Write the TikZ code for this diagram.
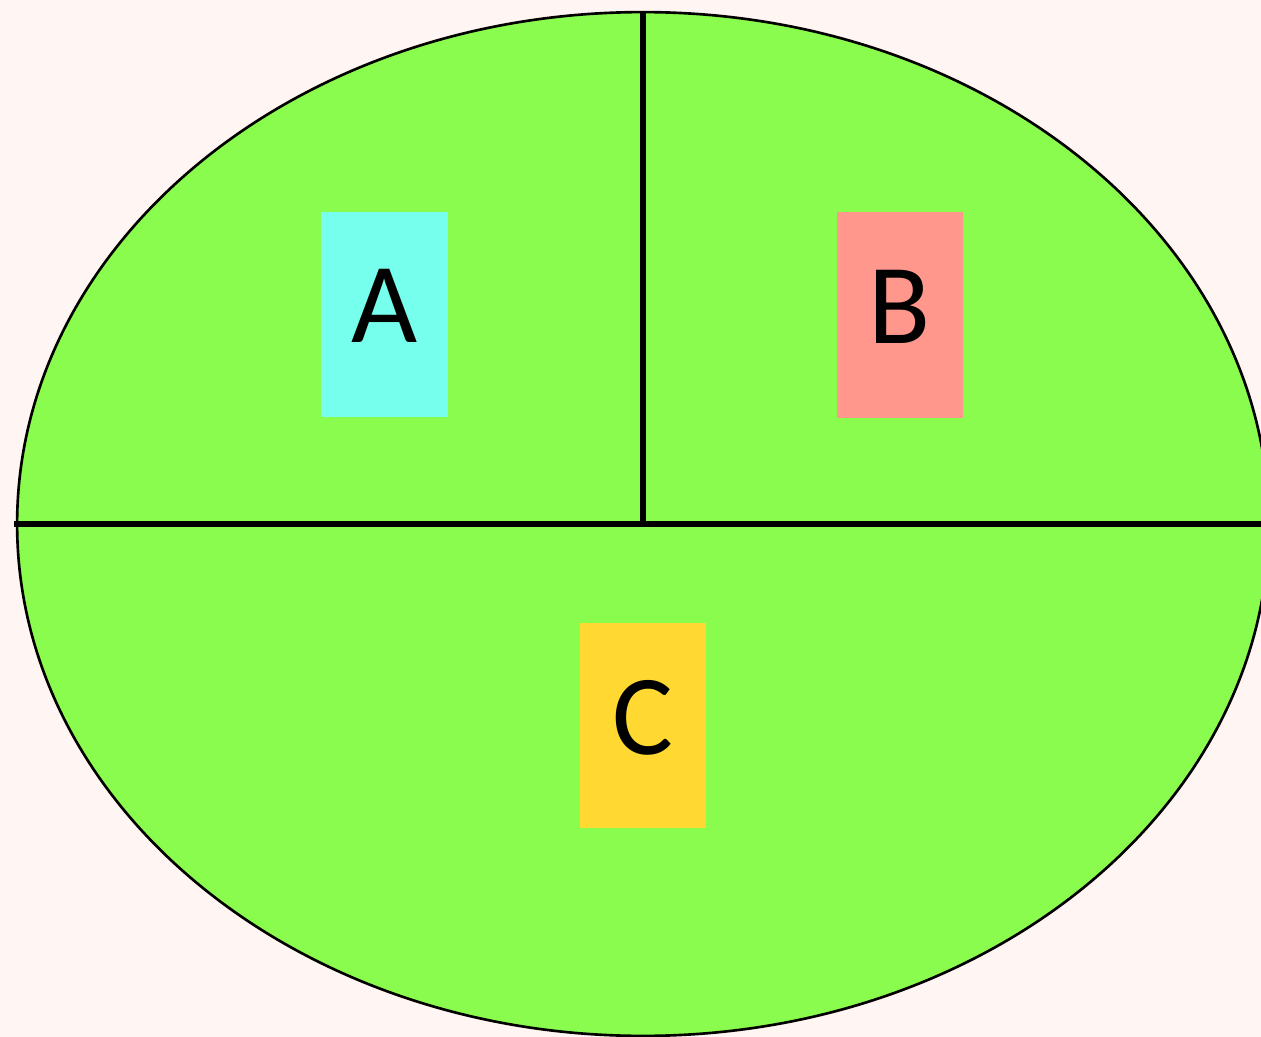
\documentclass[tikz,border=0pt]{standalone}
\usepackage{fontspec}
\setmainfont{Carlito}
\definecolor{pagetint}{HTML}{FFF5F2}
\definecolor{fieldgreen}{HTML}{8AFC4E}
\definecolor{partcyan}{HTML}{76FFEC}
\definecolor{partsalmon}{HTML}{FF978D}
\definecolor{partgold}{HTML}{FFD831}
\usetikzlibrary{shapes.geometric}
\tikzset{
    wholeset/.style={
        ellipse,
        draw=black,
        fill=fieldgreen,
        line width=1.5pt,
        inner sep=0pt,
        minimum width=25.04cm,
        minimum height=20.48cm
    },
    partlabel/.style={
        inner sep=0pt,
        minimum width=2.54cm,
        minimum height=4.12cm,
        text depth=0.34cm,
        font=\fontsize{65}{78}\selectfont
    },
    divider/.style={
        draw=black,
        line width=3.1pt
    }
}
\begin{document}
\begin{tikzpicture}[x=0.02cm,y=-0.02cm]
        \useasboundingbox[fill=pagetint] (0,0) rectangle (1261,1037);
        \node[wholeset] (ring) at (643,524) {};

        \node[partlabel,fill=partcyan] (parta) at (384.5,314.5) {A};
        \node[partlabel,fill=partsalmon] (partb) at (900,315) {B};
        \node[partlabel,fill=partgold] (partc) at (643,725.5) {C};

        \draw[divider] ([xshift=-0.04cm]ring.west) -- (ring.east);
        \draw[divider] (ring.north) -- (ring.center);
\end{tikzpicture}
\end{document}
